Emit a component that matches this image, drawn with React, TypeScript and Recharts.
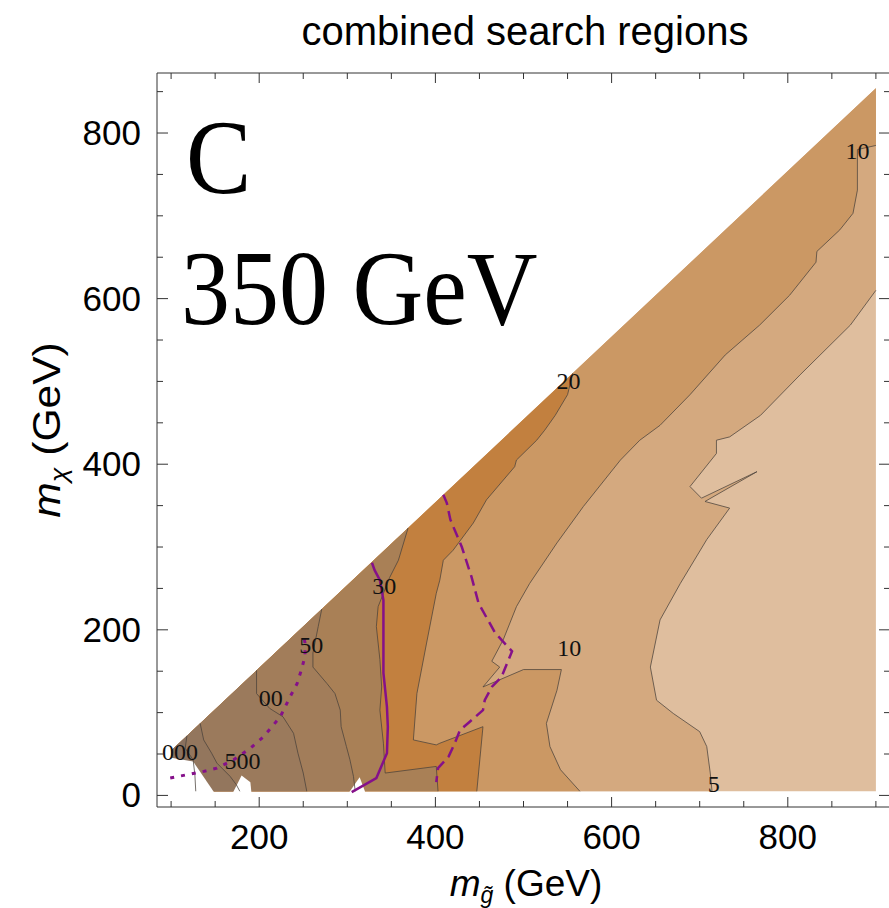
import React from 'react';
import { ComposedChart, Area, Line, Scatter, XAxis, YAxis } from 'recharts';

type Pt = { x: number; y: number };

// Frame ticks (GeV)
const X_TICKS = [100, 150, 200, 250, 300, 350, 400, 450, 500, 550, 600, 650, 700, 750, 800, 850, 900];
const Y_TICKS = [0, 50, 100, 150, 200, 250, 300, 350, 400, 450, 500, 550, 600, 650, 700, 750, 800, 850];
const X_MAJOR = [200, 400, 600, 800];
const Y_MAJOR = [0, 200, 400, 600, 800];

// Kinematic edge of the scanned grid: m_chi = m_gluino - 46
const GRID_TRIANGLE: Pt[] = [
  { x: 100, y: 5 },
  { x: 100, y: 54 },
  { x: 900, y: 854 },
  { x: 900, y: 5 },
];

// Contours, traced from their upper end down to the bottom of the grid
const contour5: Pt[] = [
  { x: 900, y: 610 }, { x: 871, y: 568 }, { x: 814, y: 508 }, { x: 769, y: 459 }, { x: 734, y: 433 },
  { x: 719, y: 429 }, { x: 719, y: 413 }, { x: 689, y: 373 }, { x: 702, y: 359 }, { x: 765, y: 391 },
  { x: 706, y: 355 }, { x: 734, y: 347 }, { x: 708, y: 309 }, { x: 678, y: 256 }, { x: 655, y: 212 },
  { x: 644, y: 155 }, { x: 651, y: 115 }, { x: 670, y: 99 }, { x: 700, y: 77 }, { x: 708, y: 59 },
  { x: 712, y: 27 }, { x: 714, y: 5 },
];
const contour10: Pt[] = [
  { x: 900, y: 785 }, { x: 879, y: 780 }, { x: 879, y: 731 }, { x: 874, y: 703 }, { x: 859, y: 683 },
  { x: 833, y: 657 }, { x: 832, y: 644 }, { x: 802, y: 604 }, { x: 768, y: 568 }, { x: 729, y: 532 },
  { x: 689, y: 484 }, { x: 655, y: 447 }, { x: 632, y: 429 }, { x: 610, y: 405 }, { x: 568, y: 349 },
  { x: 538, y: 305 }, { x: 507, y: 256 }, { x: 492, y: 228 }, { x: 477, y: 188 }, { x: 464, y: 162 },
  { x: 473, y: 155 }, { x: 454, y: 131 }, { x: 500, y: 152 }, { x: 543, y: 152 }, { x: 538, y: 127 },
  { x: 526, y: 87 }, { x: 530, y: 59 }, { x: 542, y: 31 }, { x: 564, y: 5 },
];
const contour20: Pt[] = [
  { x: 556, y: 510 }, { x: 550, y: 484 }, { x: 536, y: 459 }, { x: 524, y: 441 }, { x: 515, y: 429 },
  { x: 492, y: 405 }, { x: 490, y: 397 }, { x: 458, y: 357 }, { x: 443, y: 329 }, { x: 420, y: 296 },
  { x: 409, y: 284 }, { x: 405, y: 260 }, { x: 401, y: 244 }, { x: 390, y: 184 }, { x: 379, y: 123 },
  { x: 375, y: 67 }, { x: 401, y: 61 }, { x: 405, y: 63 }, { x: 454, y: 83 }, { x: 447, y: 5 },
];
const contour30: Pt[] = [
  { x: 369, y: 323 }, { x: 358, y: 284 }, { x: 348, y: 263 }, { x: 341, y: 244 }, { x: 335, y: 228 },
  { x: 333, y: 204 }, { x: 337, y: 164 }, { x: 339, y: 131 }, { x: 337, y: 103 }, { x: 341, y: 63 },
  { x: 343, y: 27 }, { x: 401, y: 35 }, { x: 403, y: 5 },
];
const contour50: Pt[] = [
  { x: 271, y: 225 }, { x: 267, y: 204 }, { x: 261, y: 172 }, { x: 261, y: 155 }, { x: 277, y: 135 },
  { x: 286, y: 123 }, { x: 292, y: 103 }, { x: 293, y: 83 }, { x: 299, y: 59 }, { x: 303, y: 43 },
  { x: 307, y: 23 }, { x: 309, y: 5 },
];
const contour100: Pt[] = [
  { x: 197, y: 151 }, { x: 197, y: 123 }, { x: 212, y: 105 }, { x: 227, y: 95 }, { x: 239, y: 75 },
  { x: 244, y: 51 }, { x: 250, y: 27 }, { x: 254, y: 5 },
];
const contour500: Pt[] = [
  { x: 133, y: 87 }, { x: 137, y: 67 }, { x: 146, y: 51 }, { x: 152, y: 39 }, { x: 167, y: 23 },
  { x: 174, y: 13 }, { x: 178, y: 5 },
];
const contour1000: Pt[] = [
  { x: 118, y: 72 }, { x: 116, y: 57 }, { x: 125, y: 43 }, { x: 127, y: 25 }, { x: 128, y: 5 },
];

// Grid points without a result, left blank
const gap1: Pt[] = [{ x: 97, y: 46 }, { x: 125, y: 41 }, { x: 148, y: 5 }];
const gap2: Pt[] = [{ x: 171, y: 5 }, { x: 180, y: 24 }, { x: 190, y: 16 }, { x: 191, y: 5 }];
const gap3: Pt[] = [{ x: 303, y: 5 }, { x: 314, y: 22 }, { x: 320, y: 5 }];

// Exclusion curves
const solidCurve: Pt[] = [
  { x: 305, y: 4 }, { x: 333, y: 21 }, { x: 345, y: 51 }, { x: 346, y: 83 }, { x: 345, y: 107 },
  { x: 341, y: 148 }, { x: 341, y: 184 }, { x: 341, y: 236 }, { x: 337, y: 260 }, { x: 331, y: 272 },
  { x: 328, y: 281 },
];
const dashedCurve: Pt[] = [
  { x: 409, y: 363 }, { x: 413, y: 353 }, { x: 417, y: 333 }, { x: 430, y: 300 }, { x: 441, y: 264 },
  { x: 449, y: 232 }, { x: 468, y: 196 }, { x: 487, y: 174 }, { x: 475, y: 143 }, { x: 464, y: 131 },
  { x: 456, y: 115 }, { x: 454, y: 103 }, { x: 439, y: 89 }, { x: 428, y: 79 }, { x: 422, y: 63 },
  { x: 415, y: 47 }, { x: 403, y: 33 }, { x: 401, y: 16 },
];
const dottedCurve: Pt[] = [
  { x: 99, y: 21 }, { x: 118, y: 25 }, { x: 137, y: 29 }, { x: 152, y: 33 }, { x: 171, y: 43 },
  { x: 190, y: 57 }, { x: 205, y: 71 }, { x: 224, y: 95 }, { x: 235, y: 119 }, { x: 243, y: 135 },
  { x: 248, y: 152 }, { x: 252, y: 168 }, { x: 252, y: 184 }, { x: 250, y: 196 },
];

// Contour level labels
const levelLabels = [
  { x: 110, y: 53, text: '000' },
  { x: 181, y: 41, text: '500' },
  { x: 213, y: 118, text: '00' },
  { x: 259, y: 182, text: '50' },
  { x: 342, y: 253, text: '30' },
  { x: 551, y: 501, text: '20' },
  { x: 552, y: 178, text: '10' },
  { x: 879, y: 778, text: '10' },
  { x: 716, y: 14, text: '5' },
];

const EDGE_X_MIN = 100;
const EDGE_X_MAX = 900;
const EDGE_OFFSET = 46;
const GRID_Y_MIN = 5;

// Region on the heavy-LSP side of a contour, closed along the kinematic edge
function regionLeftOf(contour: Pt[]): Pt[] {
  const pts: Pt[] = [
    { x: EDGE_X_MIN, y: GRID_Y_MIN },
    { x: EDGE_X_MIN, y: EDGE_X_MIN - EDGE_OFFSET },
  ];
  if (contour[0].x >= EDGE_X_MAX) pts.push({ x: EDGE_X_MAX, y: EDGE_X_MAX - EDGE_OFFSET });
  return [...pts, ...contour];
}

const bands = [
  { key: 'r5', contour: contour5, fill: '#d4a97f' },
  { key: 'r10', contour: contour10, fill: '#cb9864' },
  { key: 'r20', contour: contour20, fill: '#c2803f' },
  { key: 'r30', contour: contour30, fill: '#a98056' },
  { key: 'r50', contour: contour50, fill: '#a27d5a' },
  { key: 'r100', contour: contour100, fill: '#9b7a5c' },
  { key: 'r500', contour: contour500, fill: '#93765d' },
  { key: 'r1000', contour: contour1000, fill: '#8a715f' },
];

const SANS = '"Liberation Sans", Arial, Helvetica, sans-serif';
const SERIF = '"Liberation Serif", "Times New Roman", serif';
const FRAME = '#333';

const BottomTick = (props: any) => {
  const { x, y, payload } = props;
  const major = X_MAJOR.includes(payload.value);
  return (
    <g>
      <line x1={x} y1={y} x2={x} y2={y - (major ? 10 : 6)} stroke={FRAME} strokeWidth={1} />
      {major && (
        <text x={x} y={y + 42} textAnchor="middle" fontFamily={SANS} fontSize={35} fill="#000">
          {payload.value}
        </text>
      )}
    </g>
  );
};

const TopTick = (props: any) => {
  const { x, y, payload } = props;
  const major = X_MAJOR.includes(payload.value);
  return <line x1={x} y1={y} x2={x} y2={y + (major ? 10 : 6)} stroke={FRAME} strokeWidth={1} />;
};

const LeftTick = (props: any) => {
  const { x, y, payload } = props;
  const major = Y_MAJOR.includes(payload.value);
  return (
    <g>
      <line x1={x} y1={y} x2={x + (major ? 11 : 6)} y2={y} stroke={FRAME} strokeWidth={1} />
      {major && (
        <text x={x - 16} y={y + 12} textAnchor="end" fontFamily={SANS} fontSize={35} fill="#000">
          {payload.value}
        </text>
      )}
    </g>
  );
};

const RightTick = (props: any) => {
  const { x, y, payload } = props;
  const major = Y_MAJOR.includes(payload.value);
  return <line x1={x} y1={y} x2={x - (major ? 11 : 6)} y2={y} stroke={FRAME} strokeWidth={1} />;
};

const LevelLabel = (props: any) => {
  const { cx, cy, payload } = props;
  return (
    <text x={cx} y={cy} textAnchor="middle" dominantBaseline="central" fontFamily={SERIF} fontSize={24} fill="#111">
      {payload.text}
    </text>
  );
};

const areaCommon = {
  dataKey: 'y',
  type: 'linear' as const,
  fillOpacity: 1,
  stroke: 'none',
  dot: false,
  activeDot: false,
  isAnimationActive: false,
};

export default function App() {
  return (
    <div style={{ position: 'absolute', left: 0, top: 0, width: 889, height: 908, overflow: 'hidden', background: '#fff' }}>
      <ComposedChart width={900} height={908} margin={{ top: 72, right: 9, bottom: 0, left: 0 }}>
        <XAxis
          xAxisId={0}
          dataKey="x"
          type="number"
          domain={[84, 916]}
          allowDataOverflow
          ticks={X_TICKS}
          interval={0}
          tickSize={0}
          tickMargin={0}
          tickLine={false}
          tick={BottomTick}
          height={101}
          axisLine={{ stroke: FRAME, strokeWidth: 1 }}
        />
        <XAxis
          xAxisId="top"
          dataKey="x"
          orientation="top"
          type="number"
          domain={[84, 916]}
          allowDataOverflow
          ticks={X_TICKS}
          interval={0}
          tickSize={0}
          tickMargin={0}
          tickLine={false}
          tick={TopTick}
          height={1}
          axisLine={{ stroke: FRAME, strokeWidth: 1 }}
        />
        <YAxis
          yAxisId={0}
          type="number"
          domain={[-14, 872.5]}
          allowDataOverflow
          ticks={Y_TICKS}
          interval={0}
          tickSize={0}
          tickMargin={0}
          tickLine={false}
          tick={LeftTick}
          width={157}
          axisLine={{ stroke: FRAME, strokeWidth: 1 }}
        />
        <YAxis
          yAxisId="right"
          orientation="right"
          type="number"
          domain={[-14, 872.5]}
          allowDataOverflow
          ticks={Y_TICKS}
          interval={0}
          tickSize={0}
          tickMargin={0}
          tickLine={false}
          tick={RightTick}
          width={1}
          axisLine={{ stroke: FRAME, strokeWidth: 1 }}
        />

        <Area data={GRID_TRIANGLE} baseValue={GRID_Y_MIN} fill="#dfbe9e" {...areaCommon} />
        {bands.map((b) => (
          <Area key={b.key} data={regionLeftOf(b.contour)} baseValue={GRID_Y_MIN} fill={b.fill} {...areaCommon} />
        ))}
        {[gap1, gap2, gap3].map((g, i) => (
          <Area key={`gap${i}`} data={g} baseValue={0} fill="#ffffff" {...areaCommon} />
        ))}
        {bands.map((b) => (
          <Line
            key={`l${b.key}`}
            data={b.contour}
            dataKey="y"
            type="linear"
            stroke="#4a423b"
            strokeOpacity={0.75}
            strokeWidth={1}
            dot={false}
            activeDot={false}
            isAnimationActive={false}
          />
        ))}

        {/* invisible outline tied to the mirrored frame axes */}
        <Line
          xAxisId="top"
          yAxisId="right"
          data={GRID_TRIANGLE}
          dataKey="y"
          type="linear"
          stroke="none"
          dot={false}
          activeDot={false}
          isAnimationActive={false}
        />

        <Line data={solidCurve} dataKey="y" type="linear" stroke="#85108a" strokeWidth={2.5} dot={false} activeDot={false} isAnimationActive={false} />
        <Line data={dashedCurve} dataKey="y" type="linear" stroke="#85108a" strokeWidth={2.5} strokeDasharray="11 6" dot={false} activeDot={false} isAnimationActive={false} />
        <Line data={dottedCurve} dataKey="y" type="linear" stroke="#85108a" strokeWidth={3} strokeDasharray="4 7" dot={false} activeDot={false} isAnimationActive={false} />

        <Scatter data={levelLabels} dataKey="y" shape={LevelLabel} isAnimationActive={false} />
      </ComposedChart>

      <svg width={889} height={908} style={{ position: 'absolute', left: 0, top: 0, pointerEvents: 'none' }}>
        <text x={525} y={45} textAnchor="middle" fontFamily={SANS} fontSize={40} fill="#000">
          combined search regions
        </text>
        <text x={0} y={0} fontFamily={SERIF} fontSize={98} fill="#000" transform="translate(186 193) scale(1 1.07)">C</text>
        <text x={0} y={0} fontFamily={SERIF} fontSize={98} fill="#000" transform="translate(181 324) scale(1 1.07)">350 GeV</text>
        <text x={526} y={896} textAnchor="middle" fontFamily={SANS} fontSize={37} fill="#000">
          <tspan fontStyle="italic">m</tspan>
          <tspan fontStyle="italic" fontSize={23} dy={7}>g̃</tspan>
          <tspan dy={-7}> (GeV)</tspan>
        </text>
        <text x={0} y={0} textAnchor="middle" fontFamily={SANS} fontSize={38} fill="#000" transform="translate(60 430) scale(1 1.12) rotate(-90)">
          <tspan fontStyle="italic">m</tspan>
          <tspan fontStyle="italic" fontSize={24} dy={7}>χ</tspan>
          <tspan dy={-7}> (GeV)</tspan>
        </text>
      </svg>
    </div>
  );
}
